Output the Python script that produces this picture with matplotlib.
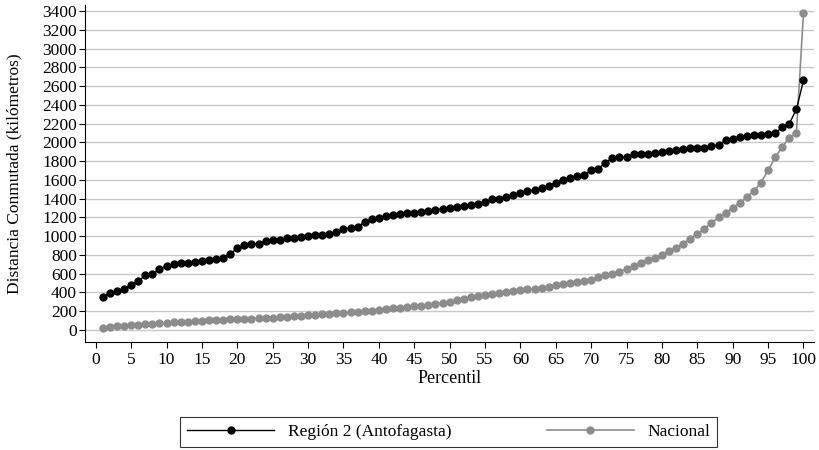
import numpy as np
import matplotlib
matplotlib.use("Agg")
import matplotlib.pyplot as plt

plt.rcParams['font.family'] = ['Liberation Serif', 'DejaVu Serif']

percentil = np.arange(1, 101)
region2 = [355, 390, 410, 440, 480, 520, 580, 590, 650, 680,
           700, 710, 710, 720, 730, 740, 750, 770, 810, 870,
           900, 910, 920, 950, 960, 960, 980, 980, 990, 1000,
           1010, 1010, 1020, 1040, 1070, 1090, 1100, 1150, 1180, 1190,
           1210, 1220, 1230, 1250, 1250, 1260, 1270, 1280, 1290, 1300,
           1310, 1320, 1330, 1340, 1360, 1390, 1400, 1420, 1440, 1460,
           1480, 1490, 1510, 1530, 1570, 1600, 1620, 1640, 1650, 1700,
           1720, 1780, 1830, 1840, 1840, 1870, 1880, 1880, 1890, 1900,
           1910, 1920, 1930, 1940, 1940, 1940, 1960, 1970, 2020, 2040,
           2060, 2070, 2080, 2080, 2090, 2100, 2160, 2200, 2350, 2660]
nacional = [20, 30, 40, 45, 50, 55, 60, 65, 70, 75,
            80, 85, 88, 90, 95, 100, 105, 108, 110, 115,
            118, 120, 123, 126, 130, 135, 140, 145, 150, 155,
            160, 165, 170, 175, 180, 185, 190, 200, 205, 210,
            220, 230, 235, 240, 250, 255, 265, 275, 290, 300,
            320, 330, 345, 360, 370, 380, 390, 400, 410, 420,
            430, 440, 450, 460, 480, 490, 500, 510, 520, 535,
            560, 580, 600, 620, 650, 680, 710, 740, 770, 800,
            840, 870, 920, 970, 1020, 1080, 1140, 1200, 1250, 1300,
            1350, 1420, 1480, 1570, 1700, 1840, 1950, 2050, 2100, 3380]
xticks = [0, 5, 10, 15, 20, 25, 30, 35, 40, 45, 50, 55, 60, 65, 70, 75, 80, 85, 90, 95, 100]
yticks = list(range(0, 3401, 200))

fig = plt.figure(figsize=(8.19, 4.5), dpi=100)
ax = fig.add_axes([0.104, 0.24, 0.89, 0.748])

ax.plot(percentil, region2, color='black', marker='o', markersize=5, linewidth=1,
        label='Región 2 (Antofagasta)', zorder=3)
ax.plot(percentil, nacional, color='#8c8c8c', marker='o', markersize=5, linewidth=1.2,
        label='Nacional', zorder=2)

ax.set_xlim(-1.5, 101.5)
ax.set_ylim(-130, 3460)
ax.set_xticks(xticks)
ax.set_yticks(yticks)
ax.tick_params(axis='both', labelsize=12.5, direction='out', length=4)
ax.tick_params(axis='y', pad=2)
ax.grid(axis='y', color='#c8c8c8', linewidth=1)
ax.set_axisbelow(True)
for s in ['top', 'right']:
    ax.spines[s].set_visible(False)
ax.set_xlabel('Percentil', fontsize=13, labelpad=1)
ax.set_ylabel('Distancia Conmutada (kilómetros)', fontsize=12.5, labelpad=14)

leg = fig.legend(loc='lower center', bbox_to_anchor=(0.548, -0.012), ncol=2, fontsize=12.5,
                 frameon=True, fancybox=False, edgecolor='black', handlelength=5,
                 columnspacing=5.5)
leg.get_frame().set_linewidth(0.8)

fig.savefig('out.png', dpi=100)
